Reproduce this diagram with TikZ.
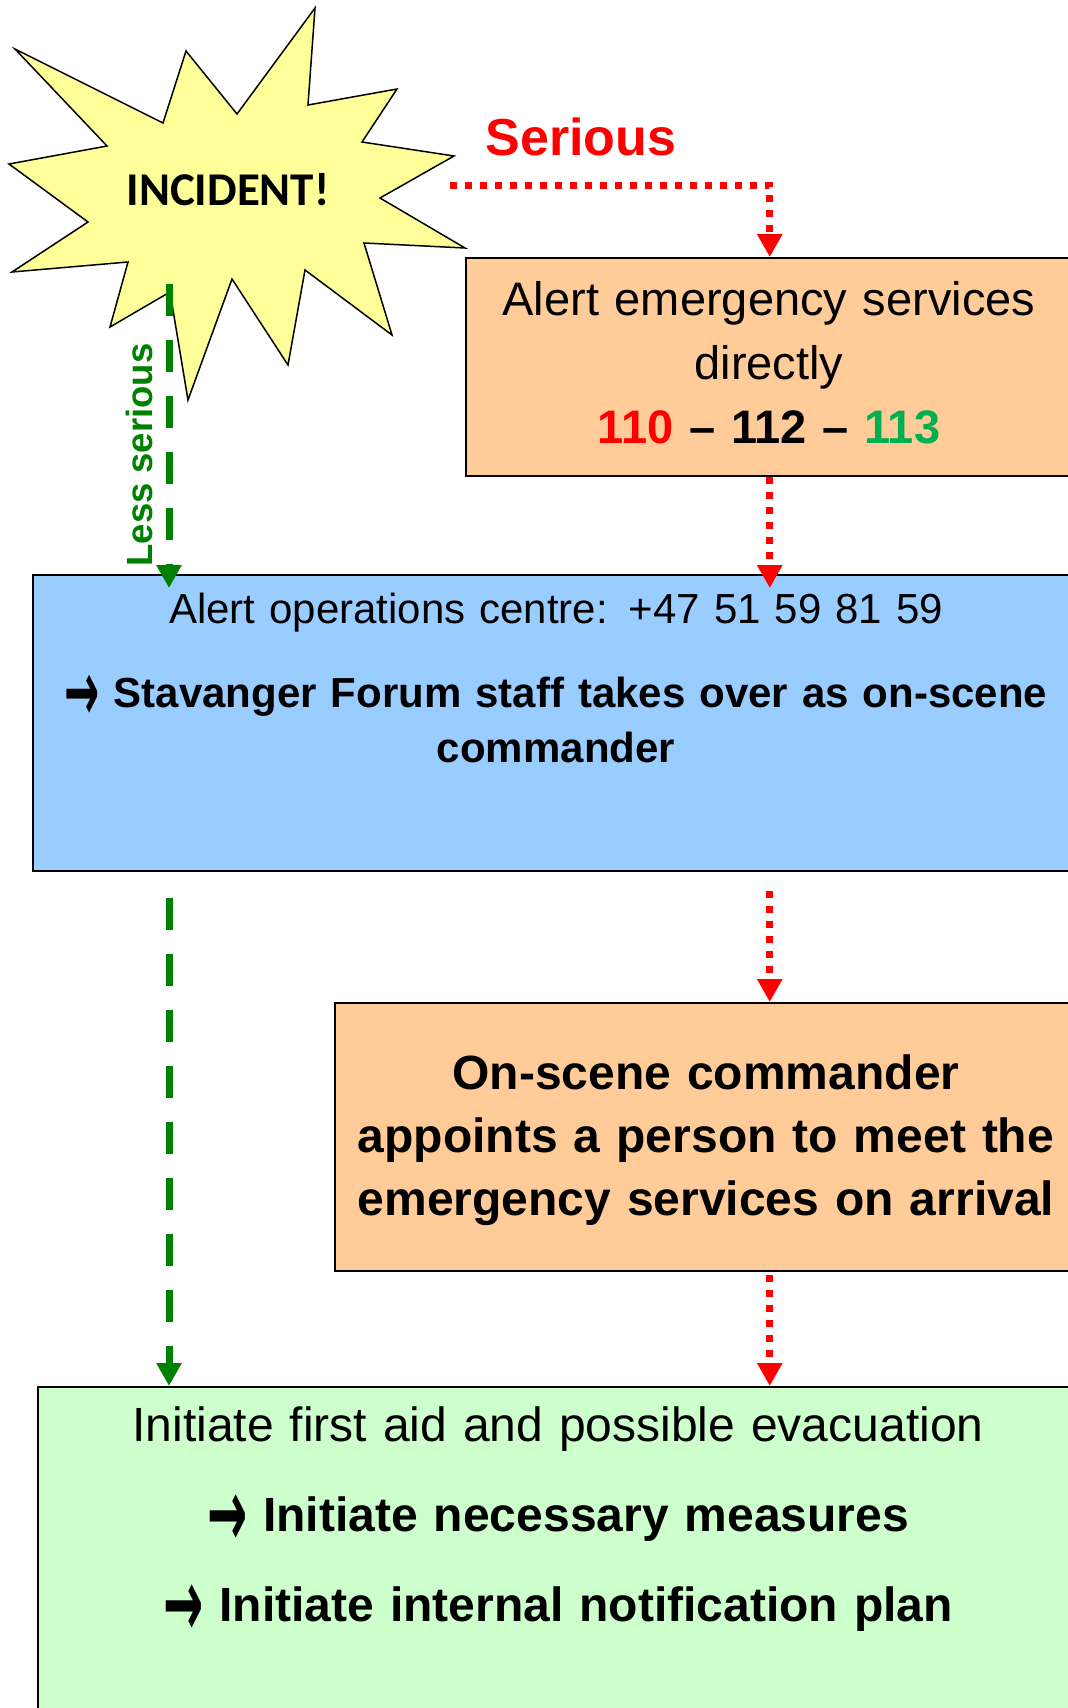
\documentclass[tikz,border=0pt]{standalone}
\usepackage{fontspec}
\setmainfont{Liberation Sans}
\newfontfamily\calibri{Carlito}
\newfontfamily\arrowfont{DejaVu Sans}
\usetikzlibrary{arrows.meta,calc}
\definecolor{starfill}{HTML}{FFFF99}
\definecolor{peach}{HTML}{FFCC99}
\definecolor{skyblue}{HTML}{99CCFF}
\definecolor{mint}{HTML}{CCFFCC}
\definecolor{alarmred}{HTML}{FF0000}
\definecolor{lessgreen}{HTML}{008000}
\definecolor{numgreen}{HTML}{00B050}
\newcommand{\chevarrow}{{\arrowfont\bfseries\raisebox{-0.32em}{\scalebox{1}[2.0]{→}}}}

\tikzset{
  flowbox/.style={draw=black, line width=1.5pt, inner sep=0pt, anchor=north west},
  flowtext/.style={anchor=base, text width=1000pt, align=center, inner sep=0pt},
  seriousline/.style={draw=alarmred, line width=7pt, dash pattern=on 7pt off 8pt, -{Triangle[length=23pt,width=24pt]}},
  lessline/.style={draw=lessgreen, line width=7pt, dash pattern=on 32pt off 24pt, -{Triangle[length=23pt,width=24pt]}}
}

\begin{document}
\begin{tikzpicture}[x=1pt, y=-1pt]
    \clip (0,0) rectangle (1068,1708);

    % Starburst
    \draw[fill=starfill, line width=1.5pt] (15,49) -- (163,123) -- (186,51) -- (237,114) -- (315,8)
        -- (308,105) -- (397,89) -- (362,142) -- (454,156) -- (380,198) -- (465,248)
        -- (364,243) -- (392,335) -- (305,270) -- (288,365) -- (232,279) -- (188,400)
        -- (170,292) -- (110,327) -- (128,262) -- (12,272) -- (88,222) -- (9,164)
        -- (107,146) -- cycle;
    \node[anchor=base, font=\calibri\bfseries\fontsize{47pt}{56pt}\selectfont] (incident) at (228,205) {INCIDENT!};

    % Labels
    \node[anchor=base, text=alarmred, font=\bfseries\fontsize{52pt}{60pt}\selectfont] (serious) at (581,155) {Serious};
    \node[rotate=90, text=lessgreen, font=\bfseries\fontsize{36.5pt}{44pt}\selectfont] (lessserious) at (139,455) {Less serious};

    % Boxes
    \node[flowbox, fill=peach, minimum width=608pt, minimum height=218pt] (alert) at (465,257) {};
    \node[flowbox, fill=skyblue, minimum width=1046pt, minimum height=296pt] (ops) at (32,574) {};
    \node[flowbox, fill=peach, minimum width=744pt, minimum height=268pt] (meet) at (334,1002) {};
    \node[flowbox, fill=mint, minimum width=1043pt, minimum height=340pt] (aid) at (37,1386) {};

    % Box texts
    \node[flowtext, font=\fontsize{47pt}{64pt}\selectfont] (alerttext) at (769,315)
        {Alert emergency services\\ directly\\ \textbf{\textcolor{alarmred}{110} \textendash{} 112 \textendash{} \textcolor{numgreen}{113}}};
    \node[flowtext, font=\fontsize{42pt}{55pt}\selectfont] (opstext) at (556,623)
        {Alert operations centre: +47 51 59 81 59\\[29pt] \bfseries \chevarrow{} Stavanger Forum staff takes over as on-scene\\ commander};
    \node[flowtext, font=\bfseries\fontsize{48pt}{63pt}\selectfont] (meettext) at (706,1089)
        {On-scene commander\\ appoints a person to meet the\\ emergency services on arrival};
    \node[flowtext, font=\fontsize{48pt}{90pt}\selectfont] (aidtext) at (558,1441)
        {Initiate first aid and possible evacuation\\ \bfseries \chevarrow{} Initiate necessary measures\\ \chevarrow{} Initiate internal notification plan};

    % Serious path
    \coordinate (serstart) at (450,185);
    \draw[seriousline] (serstart) -| (alert.north);
    \draw[seriousline] (alert.south) -- ($(ops.north -| alert.south)+(0,14)$);
    \draw[seriousline] ($(ops.south -| alert.south)+(0,19)$) -- (meet.north -| alert.south);
    \draw[seriousline] ($(meet.south -| alert.south)+(0,3)$) -- (aid.north -| alert.south);

    % Less serious path
    \coordinate (lesstop) at (169,284);
    \draw[lessline] (lesstop) -- ($(ops.north -| lesstop)+(0,14)$);
    \draw[lessline] ($(ops.south -| lesstop)+(0,26)$) -- (aid.north -| lesstop);
\end{tikzpicture}
\end{document}
